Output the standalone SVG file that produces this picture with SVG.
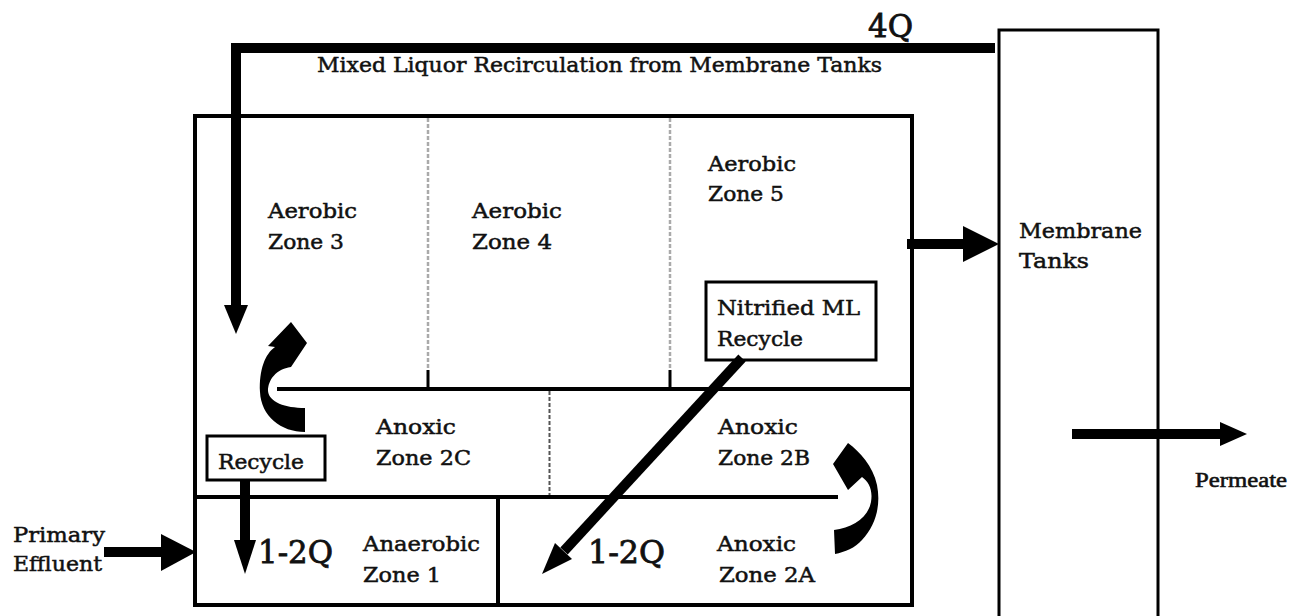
<svg xmlns="http://www.w3.org/2000/svg" width="1292" height="616" viewBox="0 0 1292 616">
<style>
.t{font-family:"DejaVu Serif","Liberation Serif",serif;font-size:21px;fill:#111;stroke:#111;stroke-width:0.5;}
.p{font-family:"Liberation Serif","DejaVu Serif",serif;font-size:22px;fill:#111;stroke:#111;stroke-width:0.6;}
.q{font-family:"DejaVu Serif","Liberation Serif",serif;font-size:31px;fill:#111;stroke:#111;stroke-width:0.8;}
.box{fill:none;stroke:#000;stroke-width:4;}
.thin{fill:none;stroke:#000;stroke-width:3;}
.wall{stroke:#000;stroke-width:4;fill:none;}
.dashL{stroke:#aaa;stroke-width:2.5;stroke-dasharray:4 2;fill:none;}
.dashD{stroke:#555;stroke-width:2;stroke-dasharray:4 2;fill:none;}
.shaft{stroke:#000;stroke-width:10;fill:none;}
.head{fill:#000;stroke:none;}
</style>
<rect width="1292" height="616" fill="#fff"/>

<g id="basin">
<rect class="box" x="195" y="116" width="717" height="489"/>
<line class="wall" x1="277" y1="389" x2="912" y2="389"/>
<line class="wall" x1="195" y1="497" x2="838" y2="497"/>
<line class="wall" x1="498" y1="497" x2="498" y2="605"/>
<line class="dashL" x1="428" y1="118" x2="428" y2="370"/>
<line stroke="#000" stroke-width="3" x1="428" y1="370" x2="428" y2="389"/>
<line class="dashL" x1="670" y1="118" x2="670" y2="370"/>
<line stroke="#000" stroke-width="3" x1="670" y1="370" x2="670" y2="389"/>
<line class="dashD" x1="549.5" y1="391" x2="549.5" y2="495"/>
</g>

<g id="zone3"><text class="t" x="268" y="218" textLength="89" lengthAdjust="spacingAndGlyphs">Aerobic</text><text class="t" x="268" y="249" textLength="76" lengthAdjust="spacingAndGlyphs">Zone 3</text></g>
<g id="zone4"><text class="t" x="472" y="218" textLength="90" lengthAdjust="spacingAndGlyphs">Aerobic</text><text class="t" x="472" y="249" textLength="80" lengthAdjust="spacingAndGlyphs">Zone 4</text></g>
<g id="zone5"><text class="t" x="708" y="171" textLength="88" lengthAdjust="spacingAndGlyphs">Aerobic</text><text class="t" x="708" y="201" textLength="76" lengthAdjust="spacingAndGlyphs">Zone 5</text></g>
<g id="zone2c"><text class="t" x="376" y="434" textLength="80" lengthAdjust="spacingAndGlyphs">Anoxic</text><text class="t" x="376" y="465" textLength="95" lengthAdjust="spacingAndGlyphs">Zone 2C</text></g>
<g id="zone2b"><text class="t" x="718" y="434" textLength="80" lengthAdjust="spacingAndGlyphs">Anoxic</text><text class="t" x="718" y="465" textLength="92" lengthAdjust="spacingAndGlyphs">Zone 2B</text></g>
<g id="zone1"><text class="t" x="363" y="551" textLength="117" lengthAdjust="spacingAndGlyphs">Anaerobic</text><text class="t" x="363" y="582" textLength="78" lengthAdjust="spacingAndGlyphs">Zone 1</text></g>
<g id="zone2a"><text class="t" x="717" y="551" textLength="79" lengthAdjust="spacingAndGlyphs">Anoxic</text><text class="t" x="719" y="582" textLength="96" lengthAdjust="spacingAndGlyphs">Zone 2A</text></g>

<g id="nitrified">
<rect class="thin" x="706" y="282" width="170" height="78"/>
<text class="t" x="717" y="315" textLength="143" lengthAdjust="spacingAndGlyphs">Nitrified ML</text>
<text class="t" x="717" y="346" textLength="86" lengthAdjust="spacingAndGlyphs">Recycle</text>
</g>

<g id="recycle">
<rect class="thin" x="207" y="436" width="118" height="44"/>
<text class="t" x="218" y="469" textLength="86" lengthAdjust="spacingAndGlyphs">Recycle</text>
</g>

<g id="membrane">
<rect class="thin" x="999" y="30" width="159" height="620"/>
<text class="t" x="1019" y="238" textLength="123" lengthAdjust="spacingAndGlyphs">Membrane</text>
<text class="t" x="1019" y="268" textLength="70" lengthAdjust="spacingAndGlyphs">Tanks</text>
</g>

<g id="labels">
<text class="t" x="317" y="72" textLength="565" lengthAdjust="spacingAndGlyphs">Mixed Liquor Recirculation from Membrane Tanks</text>
<text class="q" x="868" y="37" textLength="45" lengthAdjust="spacingAndGlyphs">4Q</text>
<text class="q" x="258" y="563" textLength="75" lengthAdjust="spacingAndGlyphs">1-2Q</text>
<text class="q" x="588" y="563" textLength="77" lengthAdjust="spacingAndGlyphs">1-2Q</text>
<text class="t" x="13" y="542" textLength="92" lengthAdjust="spacingAndGlyphs">Primary</text>
<text class="t" x="13" y="571" textLength="89" lengthAdjust="spacingAndGlyphs">Effluent</text>
<text class="p" x="1195" y="487" textLength="92" lengthAdjust="spacingAndGlyphs">Permeate</text>
</g>

<g id="connectors">
<polyline class="shaft" points="995,48 236,48 236,308"/>
<polygon class="head" points="224,305 248,305 236,334"/>
<line class="shaft" x1="907" y1="244" x2="966" y2="244"/>
<polygon class="head" points="963,226 999,244 963,262"/>
<line class="shaft" x1="104" y1="552" x2="164" y2="552"/>
<polygon class="head" points="161,534 196,552 161,571"/>
<line class="shaft" stroke-width="9" x1="1072" y1="434" x2="1222" y2="434"/>
<polygon class="head" points="1220,422 1247,434 1220,446"/>
<line class="shaft" x1="245" y1="480" x2="245" y2="542"/>
<polygon class="head" points="234,540 256,540 245,574"/>
<line class="shaft" x1="742" y1="358" x2="564" y2="551"/>
<polygon class="head" points="572,559 555,543 542,574"/>
<path class="head" d="M305,432 C281,432 261,416 260,392 C259,370 265,354 275,347 L268,346 L291,322 L307,343 L291,367 C276,369 268,380 268,391 C269,402 285,408 305,408 Z"/>
<path class="head" d="M834,530 C852,528 868,518 871,502 C873,490 869,482 862,477 L848,490 L833,464 L848,443 C860,452 873,466 877,485 C881,505 876,525 862,540 C855,548 845,552 835,554 Z"/>
</g>
</svg>
